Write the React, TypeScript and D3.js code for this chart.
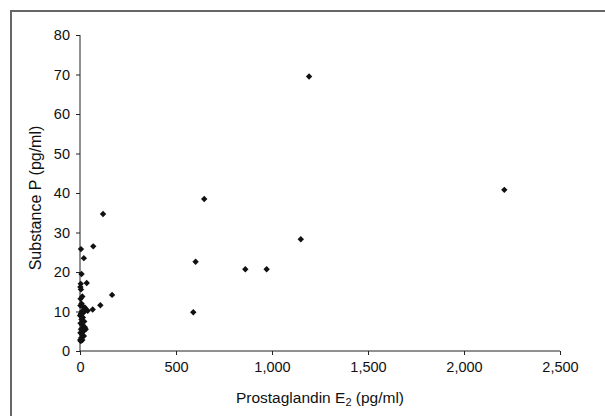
import React, { useEffect, useRef } from "react";
import * as d3 from "d3";

// Prostaglandin E2 (pg/ml) vs Substance P (pg/ml)
const pge2 = [
  5, 20, 8, 35, 4, 2, 5, 12, 3, 8, 2, 15, 25, 30, 40, 10, 20, 5, 0, 15, 8, 22, 3, 12, 25, 5, 18, 2,
  10, 20, 6, 12, 4, 30, 1,
  66, 106, 167, 69, 120, 590, 602, 647, 861, 972, 1150, 1193, 2210,
];
const substanceP = [
  25.8, 23.5, 19.5, 17.2, 17.0, 16.2, 15.6, 13.8, 13.2, 12.0, 11.5, 11.2, 11.0, 10.5, 10.2, 10.0, 9.8,
  9.5, 9.0, 8.5, 8.0, 7.5, 7.0, 6.6, 6.0, 5.5, 5.0, 4.6, 4.2, 3.8, 3.3, 2.8, 2.5, 5.5, 2.8,
  10.5, 11.6, 14.2, 26.5, 34.7, 9.8, 22.6, 38.5, 20.7, 20.7, 28.3, 69.5, 40.8,
];
const xTicks = [0, 500, 1000, 1500, 2000, 2500];
const yTicks = [0, 10, 20, 30, 40, 50, 60, 70, 80];

const App = () => {
  const svgRef = useRef<SVGSVGElement>(null);

  useEffect(() => {
    const svg = d3.select(svgRef.current);
    svg.selectAll("*").remove();

    const font = "'Liberation Sans', Arial, sans-serif";
    const x = d3.scaleLinear().domain([0, 2500]).range([80, 560]);
    const y = d3.scaleLinear().domain([0, 80]).range([351, 35]);

    // outer frame (only top/left visible in the crop)
    svg
      .append("rect")
      .attr("x", 11)
      .attr("y", 11)
      .attr("width", 700)
      .attr("height", 500)
      .attr("fill", "none")
      .attr("stroke", "#666")
      .attr("stroke-width", 2);

    const xAxis = svg
      .append("g")
      .attr("transform", `translate(0,${y(0)})`)
      .call(
        d3
          .axisBottom(x)
          .tickValues(xTicks)
          .tickSize(4)
          .tickPadding(7)
          .tickFormat(d3.format(","))
      );
    xAxis.select(".domain").attr("d", `M${x(0)},0H${x(2500)}`);

    const yAxis = svg
      .append("g")
      .attr("transform", `translate(${x(0)},0)`)
      .call(d3.axisLeft(y).tickValues(yTicks).tickSize(4).tickPadding(6));
    yAxis.select(".domain").attr("d", `M0,${y(0)}V${y(80)}`);

    svg
      .selectAll(".domain, .tick line")
      .attr("stroke", "#222")
      .attr("stroke-width", 1);
    svg
      .selectAll(".tick text")
      .attr("font-family", font)
      .attr("font-size", 14.5)
      .attr("fill", "#111");

    // points: small square diamonds
    const diamond = "M0,-3.2L3.2,0L0,3.2L-3.2,0Z";
    const pts = pge2.map((v, i) => ({ x: v, y: substanceP[i] }));
    svg
      .append("g")
      .selectAll("path")
      .data(pts)
      .enter()
      .append("path")
      .attr("transform", (d) => `translate(${x(d.x)},${y(d.y)})`)
      .attr("d", diamond)
      .attr("fill", "#111");

    // axis titles
    const xt = svg
      .append("text")
      .attr("x", 320)
      .attr("y", 403)
      .attr("text-anchor", "middle")
      .attr("font-family", font)
      .attr("font-size", 15.5)
      .attr("fill", "#111");
    xt.append("tspan").text("Prostaglandin E");
    xt.append("tspan").attr("dy", 3).attr("font-size", 11).text("2");
    xt.append("tspan").attr("dy", -3).text(" (pg/ml)");

    svg
      .append("text")
      .attr("transform", "translate(41,198) rotate(-90)")
      .attr("text-anchor", "middle")
      .attr("font-family", font)
      .attr("font-size", 16)
      .attr("fill", "#111")
      .text("Substance P (pg/ml)");
  }, []);

  return (
    <svg
      ref={svgRef}
      width={605}
      height={416}
      style={{ position: "absolute", left: 0, top: 0, background: "#fff" }}
    ></svg>
  );
};

export default App;
